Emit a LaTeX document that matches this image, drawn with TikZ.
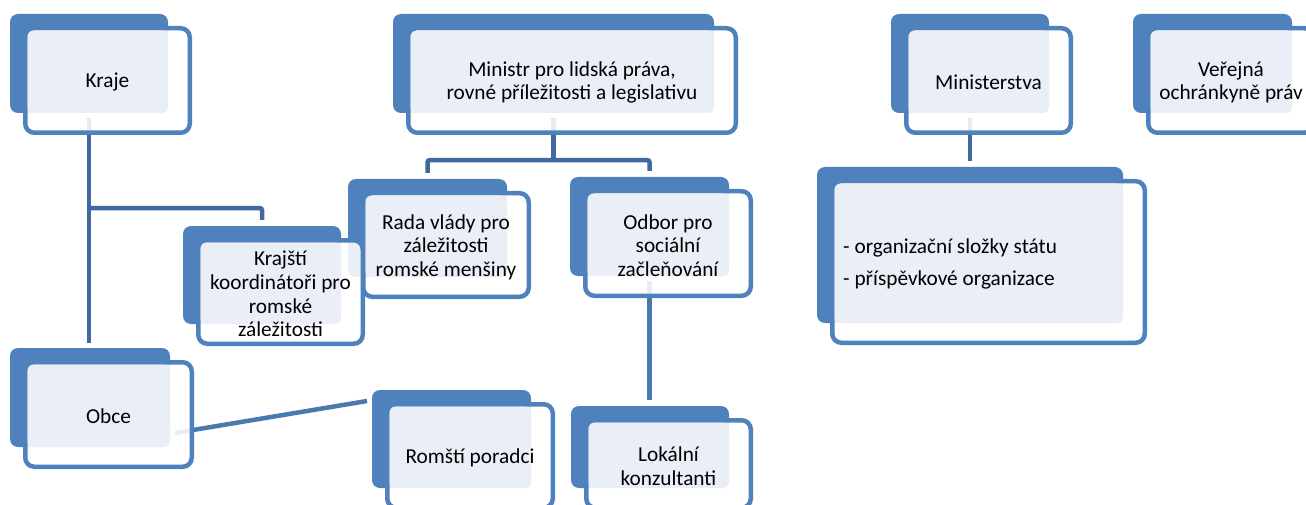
\documentclass[tikz,border=0pt]{standalone}
\usepackage{fontspec}
\setmainfont{Carlito}
\usetikzlibrary{fit,calc}
\definecolor{bk}{HTML}{4F81BD}
\definecolor{lt}{HTML}{EAEFF7}
\definecolor{cn}{HTML}{41699E}
\definecolor{cnb}{HTML}{4A78B0}
\tikzset{
  backbox/.style={fill=bk, draw=none, rounded corners=8pt, inner sep=0pt},
  frontbox/.style={draw=bk, line width=4.5pt, fill=white, fill opacity=0.88, rounded corners=9pt, inner sep=-2.25pt},
  lightfill/.style={fill=lt, rounded corners=6pt},
  txt/.style={align=center, font=\fontsize{21.3}{23.5}\selectfont, text=black, inner sep=0pt, yshift=-2pt},
  conn/.style={draw=cn, line width=4.5pt, rounded corners=2pt},
  connb/.style={draw=cnb, line width=4.5pt},
}
\newcommand\blkback[5]{\node[backbox, fit={(#2,#3) (#4,#5)}] (#1-b) {};}
\newcommand\blkfront[5]{%
  \node[frontbox, fit={(#2+13,#3+12) (#4+24,#5+22)}] (#1) {};
  \fill[lightfill] (#2+17.5,#3+16.5) rectangle (#4,#5);}
\begin{document}
\begin{tikzpicture}[x=1pt, y=-1pt]
\useasboundingbox (0,0) rectangle (1306,505);
\fill[white] (0,0) rectangle (1306,505);
% back rectangles
\blkback{kraje}{10}{14}{168}{113}
\blkback{ministr}{393}{14}{714}{113}
\blkback{mstva}{891}{14}{1049}{113}
\blkback{ochr}{1133}{14}{1292}{113}
\blkback{koord}{183}{226}{341}{324}
\blkback{rada}{348}{179}{507}{277}
\blkback{odbor}{570}{177}{729}{276}
\blkback{org}{817}{167}{1123}{323}
\blkback{obce}{10}{348}{170}{447}
\blkback{poradci}{372}{390}{531}{488}
\blkback{konz}{571}{406}{729}{488}
% connectors
\coordinate (obceR) at (175,433);
\coordinate (poradciL) at (367,401);
\draw[conn] ($(kraje-b.south)+(0,5)$) -- ($(kraje-b.south |- obce-b.north)+(0,-5)$);
\draw[conn] ($(kraje-b.south)+(0,95)$) -| ($(koord-b.north)+(0,-6)$);
\coordinate (mj) at ($(ministr-b.south)+(0,47)$);
\draw[conn] ($(ministr-b.south)+(0,5)$) -- (mj);
\draw[conn] ($(rada-b.north)+(0,-6)$) |- (mj) -| ($(odbor-b.north)+(0,-6)$);
\draw[connb] ($(odbor-b.south)+(0,5)$) -- ($(odbor-b.south |- konz-b.north)+(0,-6)$);
\draw[conn] ($(mstva-b.south)+(0,5)$) -- ($(mstva-b.south |- org-b.north)+(0,-6)$);
\draw[connb] (obceR) -- (poradciL);
% front rectangles
\blkfront{kraje}{10}{14}{168}{113}
\blkfront{ministr}{393}{14}{714}{113}
\blkfront{mstva}{891}{14}{1049}{113}
\blkfront{ochr}{1133}{14}{1292}{113}
\blkfront{koord}{183}{226}{341}{324}
\blkfront{rada}{348}{179}{507}{277}
\blkfront{odbor}{570}{177}{729}{276}
\blkfront{org}{817}{167}{1123}{323}
\blkfront{obce}{10}{348}{170}{447}
\blkfront{poradci}{372}{390}{531}{488}
\blkfront{konz}{571}{406}{729}{488}
% texts
\node[txt] (kraje-t) at (kraje) {Kraje};
\node[txt] (ministr-t) at (ministr) {Ministr pro lidská práva,\\rovné příležitosti a legislativu};
\node[txt] (mstva-t) at (mstva) {Ministerstva};
\node[txt] (ochr-t) at (ochr) {Veřejná\\ochránkyně práv};
\node[txt] (koord-t) at (koord) {Krajští\\koordinátoři pro\\romské\\záležitosti};
\node[txt] (rada-t) at (rada) {Rada vlády pro\\záležitosti\\romské menšiny};
\node[txt] (odbor-t) at (odbor) {Odbor pro\\sociální\\začleňování};
\node[txt, align=left, anchor=west] (org-t) at (843,262) {- organizační složky státu\\[8.5pt]- příspěvkové organizace};
\node[txt] (obce-t) at (obce) {Obce};
\node[txt] (poradci-t) at (poradci) {Romští poradci};
\node[txt] (konz-t) at (konz) {Lokální\\konzultanti};
\end{tikzpicture}
\end{document}
